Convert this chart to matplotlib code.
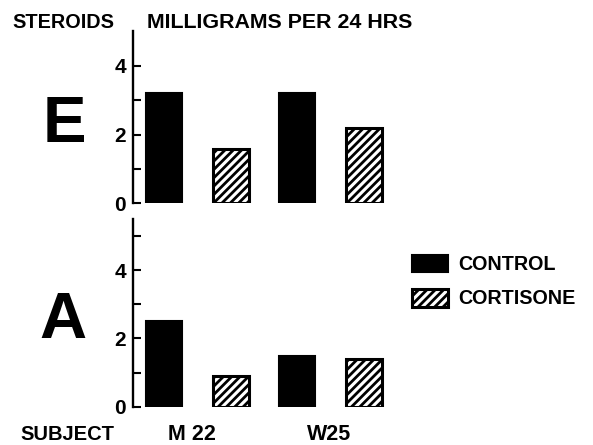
import matplotlib
matplotlib.use("Agg")
from matplotlib import pyplot as plt
from matplotlib import transforms

# data (mg per 24 hrs)
subjects = ["M 22", "W25"]
series = ["CONTROL", "CORTISONE"]
e_control = [3.2, 3.2]
e_cortisone = [1.58, 2.2]
a_control = [2.51, 1.5]
a_cortisone = [0.91, 1.41]

plt.rcParams['font.family'] = ['Liberation Sans', 'DejaVu Sans']
plt.rcParams['font.weight'] = 'bold'
plt.rcParams['hatch.linewidth'] = 2.0

W, H = 593, 445
fig = plt.figure(figsize=(W / 100, H / 100), dpi=100)

ax_l, ax_w = 132.7 / W, (397.5 - 132.7) / W
ax_top = fig.add_axes([ax_l, (H - 203.3) / H, ax_w, 172.0 / H])
ax_bot = fig.add_axes([ax_l, (H - 406.8) / H, ax_w, 188.1 / H])

ctrl_x = [0, 2]
cort_x = [1, 3]
bw = 0.54

def panel(ax, ctrl, cort, ymax, ticks):
    b1 = ax.bar(ctrl_x, ctrl, width=bw, color='black', edgecolor='black',
                linewidth=1.5, label=series[0])
    b2 = ax.bar(cort_x, cort, width=bw, color='white', edgecolor='black',
                linewidth=2.2, hatch='////', label=series[1])
    ax.set_xlim(-0.47, 3.5)
    ax.set_ylim(0, ymax)
    for s in ['top', 'right', 'bottom']:
        ax.spines[s].set_visible(False)
    ax.spines['left'].set_linewidth(1.7)
    ax.set_xticks([])
    ax.set_yticks(ticks)
    ax.set_yticklabels([str(t) if t % 2 == 0 else '' for t in ticks])
    ax.tick_params(axis='y', direction='in', length=6, width=1.5, pad=5,
                   labelsize=15)
    return b1, b2

panel(ax_top, e_control, e_cortisone, 5.0, [0, 1, 2, 3, 4])
b1, b2 = panel(ax_bot, a_control, a_cortisone, 5.5, [0, 1, 2, 3, 4, 5])

fig.text(12 / W, 1 - 28 / H, "STEROIDS", fontsize=14.3, va='baseline')
fig.text(146.7 / W, 1 - 28 / H, "MILLIGRAMS PER 24 HRS", fontsize=15.4, va='baseline')
fig.text(64 / W, 1 - 141.7 / H, "E", fontsize=47, ha='center', va='baseline')
fig.text(62.5 / W, 1 - 338.3 / H, "A", fontsize=47, ha='center', va='baseline')
fig.text(20 / W, 1 - 440 / H, "SUBJECT", fontsize=14.5, va='baseline')

lab_tr = transforms.blended_transform_factory(ax_bot.transData, fig.transFigure)
for xpos, name in zip([0.42, 2.48], subjects):
    ax_bot.text(xpos, 1 - 440 / H, name, fontsize=15.5, ha='center', va='baseline',
                transform=lab_tr)

fig.legend(handles=[b1, b2], loc='upper left', bbox_to_anchor=(411.7 / W, 1 - 254.5 / H),
           frameon=False, fontsize=14.2, handlelength=1.85, handleheight=1.0,
           handletextpad=0.5, labelspacing=0.75, borderpad=0, borderaxespad=0)

fig.savefig("out.png", dpi=100)
